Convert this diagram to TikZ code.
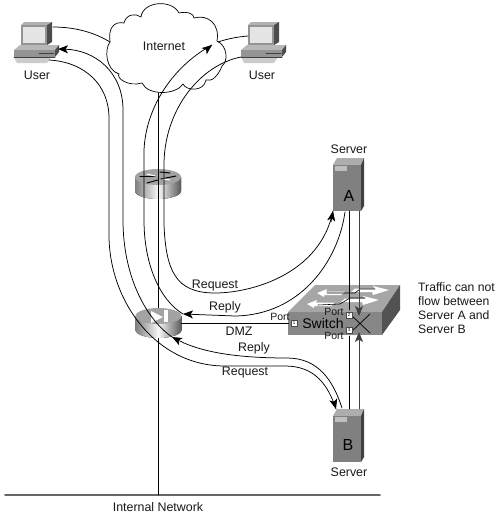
\documentclass[tikz,border=0pt]{standalone}
\usepackage{fontspec}
\setmainfont{Liberation Sans}
\usetikzlibrary{arrows.meta}
\definecolor{srvfront}{gray}{0.50}
\definecolor{srvtop}{gray}{0.68}
\definecolor{srvside}{gray}{0.25}
\tikzset{
  lbl/.style={font=\fontsize{12.4}{14}\selectfont,inner sep=0pt,text=black!90},
  portlbl/.style={font=\fontsize{10.5}{12}\selectfont,inner sep=0pt,text=black!90},
  wire/.style={draw=black,line width=0.75pt},
  flow/.style={wire,-{Stealth[length=10pt,width=8pt,inset=2.5pt]}},
  portbox/.style={draw=black!70,fill=white,inner sep=0pt,minimum size=6pt,font=\fontsize{4.5}{5}\selectfont},
  pics/pc/.style={code={
    \fill[black!30] (0,-20) -- (3,-23) -- (31,-23) -- (26,-20) -- cycle;
    \fill[black!70] (26,-20) -- (31,-23) -- (31,-3) -- (26,0) -- cycle;
    \fill[black!42] (0,-20) rectangle (26,0);
    \fill[black!10] (2,-18) rectangle (24,-2);
    \fill[black!28] (-7,5) -- (-1,0) -- (38,0) -- (34,5) -- cycle;
    \fill[black!42] (-7,5) rectangle (34,12);
    \fill[black!70] (34,5) -- (38,0) -- (38,7) -- (34,12) -- cycle;
    \fill[black!20] (-7,12) -- (30,12) -- (26,18) -- (-4,18) -- cycle;
    \draw[black!75,line width=0.6pt] (-7,12) -- (34,12) (18,8) -- (33,8);
  }},
  pics/barrel/.style={code={
    \fill[left color=black!50,right color=black!65,middle color=black!3] (-23,-7) -- (-23,7) arc[start angle=180,end angle=0,x radius=23,y radius=8] -- (23,-7) -- cycle;
    \fill[black!36] (0,-7) ellipse[x radius=23,y radius=8];
  }},
  pics/server/.style={code={
    \fill[srvtop] (0,0) -- (4,-7) -- (31,-7) -- (28,0) -- cycle;
    \fill[srvside] (28,0) -- (31,-7) -- (31,41) -- (28,46) -- cycle;
    \fill[srvfront] (0,0) rectangle (28,46);
    \fill[black!25] (2,1) rectangle (14,6);
  }}
}
\begin{document}
\begin{tikzpicture}[x=1pt,y=-1pt,line cap=round]
\useasboundingbox (0,0) rectangle (500,517);
\fill[white] (0,0) rectangle (500,517);
% cloud
\draw[fill=white,line width=0.7pt] (110,42)
  .. controls (108,28) and (114,21) .. (124,23)
  .. controls (126,14) and (136,13) .. (141,17)
  .. controls (143,1) and (172,-1) .. (179,13)
  .. controls (188,11) and (194,14) .. (194,18)
  .. controls (208,14) and (220,24) .. (217,41)
  .. controls (228,46) and (228,62) .. (222,66)
  .. controls (218,76) and (212,82) .. (206,80)
  .. controls (204,92) and (186,91) .. (183,84)
  .. controls (176,95) and (148,96) .. (142,83)
  .. controls (128,87) and (116,78) .. (119,74)
  .. controls (106,70) and (104,50) .. (110,42) -- cycle;
\node[lbl] (inet) at (164,46) {Internet};
% end points
\coordinate (cl) at (110,42); \coordinate (cr) at (218,42);
\coordinate (cb) at (158,93);
\coordinate (u1a) at (53,27); \coordinate (u1b) at (58,49); \coordinate (u1c) at (49,60);
\coordinate (u2a) at (248,36); \coordinate (u2b) at (241,57);
\coordinate (inettip) at (212,45);
\coordinate (inb) at (158,495);
\coordinate (nl) at (5,495); \coordinate (nr) at (380,495);
\coordinate (fwt) at (183,314); \coordinate (fwb) at (172,337);
\coordinate (sat) at (333,211); \coordinate (saf) at (345,212);
\coordinate (sbt) at (336,409); \coordinate (sbf) at (342,408);
% computers
\pic at (21,45) {pc};
\pic at (248,45) {pc};
% router
\pic at (158,184) {barrel};
\foreach \a/\b/\c/\d in {140/176/155/176,176/176/161/179,147/183/158/180,160/172/170/173}
  \draw[black,line width=1pt] (\a,\b)--(\c,\d);
\foreach \a/\b/\c/\d in {155/176/147/174,163/179/170/180}
  \draw[white,line width=1pt] (\a,\b)--(\c,\d);
% network
\draw[black!60,line width=1.6pt] (nl) -- (nr);
\node[lbl] (intnet) at (158,507) {Internal Network};
\draw[wire] (cb) -- (inb);
% servers
\pic at (333,165) {server};
\pic at (333,416) {server};
% switch
\fill[black!35] (288,312) -- (315,285) -- (400,285) -- (382,312) -- cycle;
\fill[black!47] (288,312) rectangle (382,335);
\fill[black!68] (382,312) -- (400,285) -- (400,310) -- (382,335) -- cycle;
\foreach \a/\b in {317/293,307/304}
  \fill[white] (\a,\b) -- (\a+10,\b-4) -- (\a+9,\b-1.5) -- (\a+28,\b-1.5) -- (\a+24,\b+2) -- (\a+7,\b+2) -- (\a+7,\b+4) -- cycle;
\foreach \a/\b in {355/290,345/300}
  \fill[white] (\a,\b-1.5) -- (\a+20,\b-1.5) -- (\a+18,\b-4) -- (\a+34,\b) -- (\a+18,\b+5) -- (\a+17,\b+2) -- (\a-4,\b+2) -- cycle;
\draw[black,line width=0.6pt] (327,293) -- (355,293) -- (360,289) -- (375,289)
  (318,305) -- (340,304) -- (350,298) -- (365,298);
% firewall
\pic at (158.5,323) {barrel};
\fill[white] (151,311) -- (163,317) -- (151,323) -- cycle;
\fill[white] (164,310) rectangle (168,322);
\draw[wire] (181,323) -- (289,323);
% connectors
\draw[wire] (u1a) .. controls (78,27) and (97,34) .. (cl);
\draw[wire] (u2a) .. controls (236,37) and (227,39) .. (cr);
\draw[wire,{Stealth[length=10pt,width=8pt,inset=2.5pt]}-] (u1b) .. controls (95,50) and (123,72) .. (123,110) -- (123,220) .. controls (123,275) and (145,318) .. (fwb);
\draw[wire] (u1c) .. controls (85,62) and (109,85) .. (109,118) -- (109,235) .. controls (109,300) and (155,366) .. (225,366) -- (285,366) .. controls (315,366) and (328,385) .. (sbt);
\draw[flow] (sbt) ++(-1.7,-6) -- (sbt);
\draw[wire] (fwt) .. controls (160,300) and (144,265) .. (144,220) -- (144,150) .. controls (146,105) and (175,65) .. (inettip);
\draw[flow] (207,49) -- (inettip);
\draw[wire] (u2b) .. controls (200,65) and (164,110) .. (164,165) -- (164,225) .. controls (166,270) and (175,293) .. (215,293) .. controls (250,293) and (320,275) .. (sat);
\draw[flow] (331,222) -- (sat);
\draw[flow] (saf) .. controls (338,262) and (300,315) .. (235,316) -- (fwt);
\draw[flow] (sbf) .. controls (333,380) and (318,358) .. (287,358) .. controls (245,358) and (205,354) .. (fwb);
% server links
\draw[wire] (349,211) -- (349,310);
\draw[wire] (349,336) -- (349,409);
\draw[flow,draw=black!75,fill=black] (359,211) -- (359,316);
\draw[flow,draw=black!75,fill=black] (359,409) -- (359,332);
\draw[black,line width=0.7pt] (350,314) -- (370,333) (350,333) -- (370,314);
% ports
\node[portbox] (p1) at (294,323) {1};
\node[portbox] (p2) at (349,315) {2};
\node[portbox] (p3) at (349,330) {3};
% labels
\node[lbl] (uleft) at (37,75) {User};
\node[lbl] (uright) at (262,75) {User};
\node[lbl] (sa) at (349,149) {Server};
\node[lbl] (sb) at (349,472) {Server};
\node[font=\fontsize{16}{18}\selectfont,inner sep=0pt] (la) at (349,196) {A};
\node[font=\fontsize{16}{18}\selectfont,inner sep=0pt] (lb) at (348,445) {B};
\node[lbl] (req1) at (215,286) {Request};
\node[lbl] (rep1) at (225,307) {Reply};
\node[lbl] (dmz) at (239,331) {DMZ};
\node[lbl] (rep2) at (254,348) {Reply};
\node[lbl] (req2) at (245,373) {Request};
\node[font=\fontsize{14}{16}\selectfont,inner sep=0pt] (swl) at (323,323) {Switch};
\node[portlbl] (p1l) at (280,317) {Port};
\node[portlbl] (p2l) at (334,312) {Port};
\node[portlbl] (p3l) at (334,336) {Port};
\node[lbl,align=left,anchor=north west,font=\fontsize{12.2}{14.3}\selectfont] (note) at (418,282) {Traffic can not\\flow between\\Server A and\\Server B};
\end{tikzpicture}
\end{document}
